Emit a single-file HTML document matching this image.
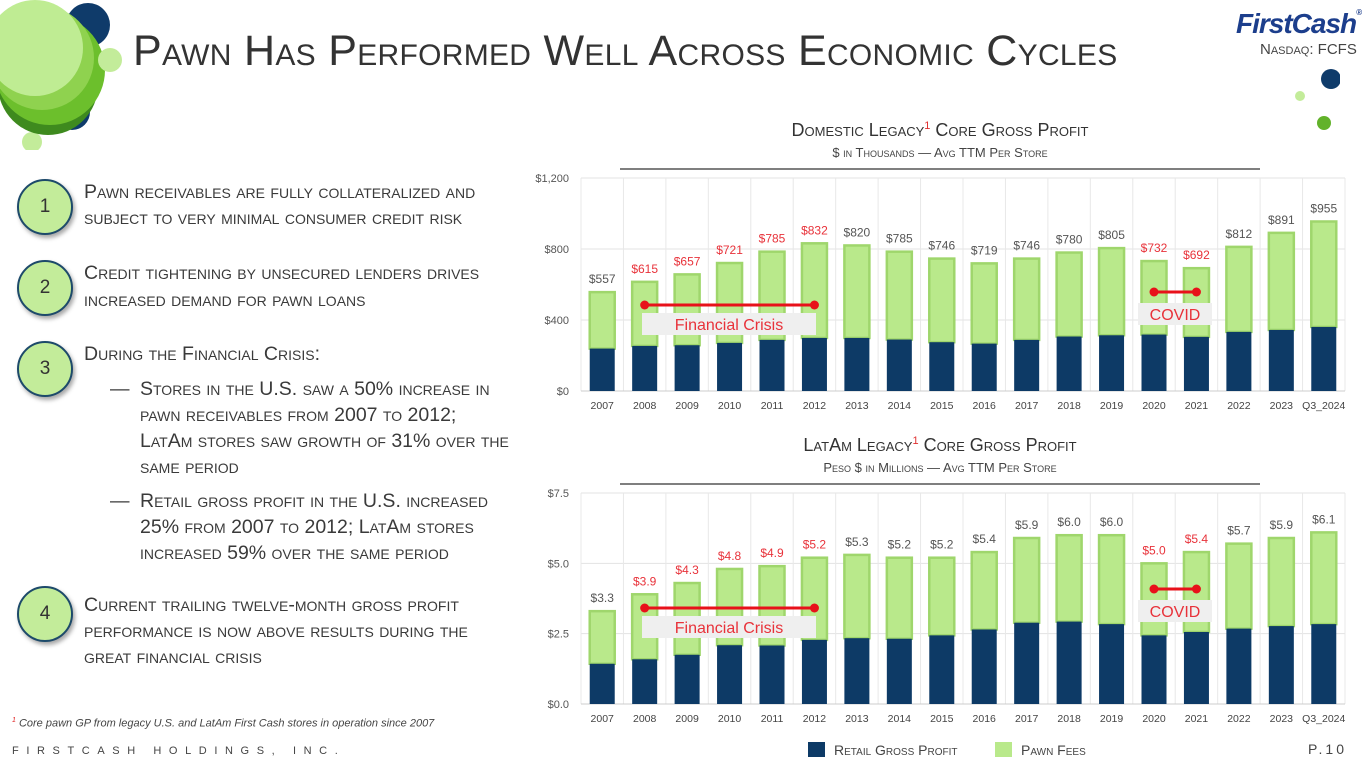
<!DOCTYPE html>
<html><head><meta charset="utf-8">
<style>
body{margin:0;width:1365px;height:768px;overflow:hidden;background:#fff;font-family:"Liberation Sans",sans-serif;position:relative;color:#3a3a3a}
.abs{position:absolute}
.sc{font-variant:small-caps}
.line{position:absolute;left:84px;font-size:19.5px;font-variant:small-caps;white-space:nowrap;color:#3a3a3a}
.num{position:absolute;width:52px;height:52px;border-radius:50%;background:#c3ec9a;border:2px solid #1d4a6a;box-shadow:2px 3px 4px rgba(0,0,0,.35);text-align:center;line-height:52px;font-size:19px;color:#333}
</style></head><body>
<svg class="abs" style="left:0;top:0" width="140" height="150">
<circle cx="88" cy="25" r="22" fill="#0f3b6a"/><circle cx="72" cy="112" r="18" fill="#0f3b6a"/>
<circle cx="32" cy="142" r="10" fill="#c3ec9a"/>
<circle cx="48" cy="85" r="50" fill="#3e8a1e"/><circle cx="50" cy="70" r="55" fill="#6cbf2c"/>
<circle cx="110" cy="60" r="12" fill="#c3ec9a"/>
<circle cx="42" cy="58" r="52" fill="#8fd24f"/><circle cx="35" cy="48" r="48" fill="#bfec93"/>
</svg>
<div class="abs" style="left:133px;top:27px;font-size:43px;font-variant:small-caps;color:#333;letter-spacing:0.3px;white-space:nowrap">Pawn Has Performed Well Across Economic Cycles</div>
<div class="abs" style="left:1236px;top:8px;font-size:28px;font-weight:bold;font-style:italic;color:#1c3e8c;letter-spacing:-1px">FirstCash<span style="font-size:8px;vertical-align:top">®</span></div>
<div class="abs sc" style="left:1260px;top:41px;font-size:15px;color:#444">Nasdaq: FCFS</div>
<svg class="abs" style="left:1280px;top:60px" width="60" height="80">
<circle cx="51" cy="19" r="10" fill="#0f3b6a"/><circle cx="20" cy="36" r="5" fill="#c3ec9a"/><circle cx="44" cy="63" r="7" fill="#62b22a"/></svg>

<div class="num" style="left:17px;top:179px">1</div>
<div class="num" style="left:17px;top:260px">2</div>
<div class="num" style="left:17px;top:341px">3</div>
<div class="num" style="left:17px;top:586px">4</div>
<div>
<div class="line" style="top:181px">Pawn receivables are fully collateralized and</div>
<div class="line" style="top:207px">subject to very minimal consumer credit risk</div></div>
<div>
<div class="line" style="top:262px">Credit tightening by unsecured lenders drives</div>
<div class="line" style="top:289px">increased demand for pawn loans</div></div>
<div>
<div class="line" style="top:343px">During the Financial Crisis:</div>
<div class="line" style="left:110px;top:378px">—</div>
<div class="line" style="left:140px;top:378px">Stores in the U.S. saw a 50% increase in</div>
<div class="line" style="left:140px;top:404px">pawn receivables from 2007 to 2012;</div>
<div class="line" style="left:140px;top:430px">LatAm stores saw growth of 31% over the</div>
<div class="line" style="left:140px;top:456px">same period</div>
<div class="line" style="left:110px;top:490px">—</div>
<div class="line" style="left:140px;top:490px">Retail gross profit in the U.S. increased</div>
<div class="line" style="left:140px;top:516px">25% from 2007 to 2012; LatAm stores</div>
<div class="line" style="left:140px;top:542px">increased 59% over the same period</div></div>
<div>
<div class="line" style="top:594px">Current trailing twelve-month gross profit</div>
<div class="line" style="top:620px">performance is now above results during the</div>
<div class="line" style="top:646px">great financial crisis</div></div>
<div class="abs" style="left:12px;top:717px;font-size:11px;font-style:italic;color:#444"><sup style="color:#e02020;font-size:7px">1</sup> Core pawn GP from legacy U.S. and LatAm First Cash stores in operation since 2007</div>
<div class="abs" style="left:12px;top:745px;font-size:11px;letter-spacing:7.6px;color:#444">FIRSTCASH HOLDINGS, INC.</div>
<div class="abs" style="left:1308px;top:741px;font-size:14px;letter-spacing:3px;color:#444">P.10</div>

<svg id="charts" class="abs" style="left:0;top:0" width="1365" height="768"></svg>
<script>
const categories=["2007","2008","2009","2010","2011","2012","2013","2014","2015","2016","2017","2018","2019","2020","2021","2022","2023","Q3_2024"];
const domTotal=[557,615,657,721,785,832,820,785,746,719,746,780,805,732,692,812,891,955];
const domRetail=[239,254,258,271,288,299,299,290,275,267,288,307,314,318,305,333,344,361];
const domTicks=[0,400,800,1200];
const latTotal=[3.3,3.9,4.3,4.8,4.9,5.2,5.3,5.2,5.2,5.4,5.9,6.0,6.0,5.0,5.4,5.7,5.9,6.1];
const latRetail=[1.43,1.59,1.75,2.09,2.08,2.28,2.34,2.32,2.44,2.65,2.89,2.93,2.84,2.44,2.56,2.68,2.77,2.84];
const latTicks=[0,2.5,5.0,7.5];
const redIdx=[1,2,3,4,5,13,14];
const svg=document.getElementById('charts');
const NS='http://www.w3.org/2000/svg';
function mk(tag,attrs,parent){const e=document.createElementNS(NS,tag);for(const k in attrs)e.setAttribute(k,attrs[k]);(parent||svg).appendChild(e);return e;}
function chart(cfg){
 const g=mk('g',{});
 
 
 const x0=581,x1=1345,n=categories.length,bw=(x1-x0)/n;
 const y=v=>cfg.yb-(v-cfg.min)/(cfg.max-cfg.min)*(cfg.yb-cfg.yt);
 const xc=i=>x0+bw*(i+0.5);
 const t=mk('text',{x:940,y:cfg.ty,'text-anchor':'middle','font-size':18,fill:'#333','font-variant':'small-caps'},g);
 t.innerHTML=cfg.title1+'<tspan fill="#e03030" font-size="11" dy="-7">1</tspan><tspan dy="7"> Core Gross Profit</tspan>';
 
 
 const s=mk('text',{x:940,y:cfg.ty+21,'text-anchor':'middle','font-size':13,fill:'#444','font-variant':'small-caps'},g);
 s.textContent=cfg.sub;
 
 
 mk('line',{x1:620,x2:1260,y1:cfg.ty+33,y2:cfg.ty+33,stroke:'#555','stroke-width':1.5},g);
 cfg.ticks.forEach(v=>{
  mk('line',{x1:x0,x2:x1,y1:y(v),y2:y(v),stroke:'#e3e3e3'},g);
  const tl=mk('text',{x:x0-12,y:y(v)+4,'text-anchor':'end','font-size':11,fill:'#555'},g);
  tl.textContent=cfg.fmt(v);
  
  
 });
 for(let i=0;i<=n;i++)mk('line',{x1:x0+bw*i,x2:x0+bw*i,y1:cfg.yt,y2:cfg.yb,stroke:'#e8e8e8'},g);
 mk('line',{x1:x0,x2:x1,y1:cfg.yb,y2:cfg.yb,stroke:'#ccc'},g);
 categories.forEach((c,i)=>{
  const w=25,xl=xc(i)-w/2;
  const pb=mk('rect',{x:xl,y:y(cfg.total[i]),width:w,height:y(cfg.retail[i])-y(cfg.total[i]),fill:'#b9e98b',stroke:'#9fd66c','stroke-width':2.5},g);
  
  
  const rb=mk('rect',{x:xl,y:y(cfg.retail[i]),width:w,height:cfg.yb-y(cfg.retail[i]),fill:'#0d3a66'},g);
  
  
  const vl=mk('text',{x:xc(i),y:y(cfg.total[i])-9,'text-anchor':'middle','font-size':12,fill:redIdx.includes(i)?'#e8323a':'#555'},g);
  vl.textContent=cfg.lab(cfg.total[i]);
  
  
  const xl2=mk('text',{x:xc(i),y:cfg.yb+18,'text-anchor':'middle','font-size':10.5,fill:'#444'},g);
  xl2.textContent=c;
  
  
 });
 function ann(a,b,yy,label,lx,ly,lw,name){
  const ag=mk('g',{},g);
  
  
  mk('rect',{x:lx,y:ly,width:lw,height:22,fill:'#efefef'},ag);
  mk('line',{x1:xc(a),x2:xc(b),y1:yy,y2:yy,stroke:'#e8111a','stroke-width':3},ag);
  mk('circle',{cx:xc(a),cy:yy,r:4.5,fill:'#e8111a'},ag);
  mk('circle',{cx:xc(b),cy:yy,r:4.5,fill:'#e8111a'},ag);
  const tx=mk('text',{x:lx+lw/2,y:ly+17,'text-anchor':'middle','font-size':16,fill:'#e8323a'},ag);
  tx.textContent=label;
 }
 ann(1,5,cfg.fcY,'Financial Crisis',642,cfg.fcY+8,174,'financial-crisis-annotation');
 ann(13,14,cfg.cvY,'COVID',1138,cfg.cvY+11,74,'covid-annotation');
}
chart({name:'domestic-chart',title1:'Domestic Legacy',sub:'$ in Thousands — Avg TTM Per Store',ty:136,yt:178,yb:391,min:0,max:1200,ticks:domTicks,total:domTotal,retail:domRetail,fmt:v=>'$'+v.toLocaleString('en-US'),lab:v=>'$'+v,fcY:305,cvY:292});
chart({name:'latam-chart',title1:'LatAm Legacy',sub:'Peso $ in Millions — Avg TTM Per Store',ty:451,yt:493,yb:704,min:0,max:7.5,ticks:latTicks,total:latTotal,retail:latRetail,fmt:v=>'$'+v.toFixed(1),lab:v=>'$'+v.toFixed(1),fcY:608,cvY:589});
const lg=mk('g',{});


mk('rect',{x:808,y:742,width:17,height:15,fill:'#0d3a66'},lg);
const l1=mk('text',{x:834,y:755,'font-size':14,fill:'#444','font-variant':'small-caps'},lg);l1.textContent='Retail Gross Profit';
mk('rect',{x:995,y:742,width:17,height:15,fill:'#b9e98b'},lg);
const l2=mk('text',{x:1021,y:755,'font-size':14,fill:'#444','font-variant':'small-caps'},lg);l2.textContent='Pawn Fees';
</script>
</body></html>
